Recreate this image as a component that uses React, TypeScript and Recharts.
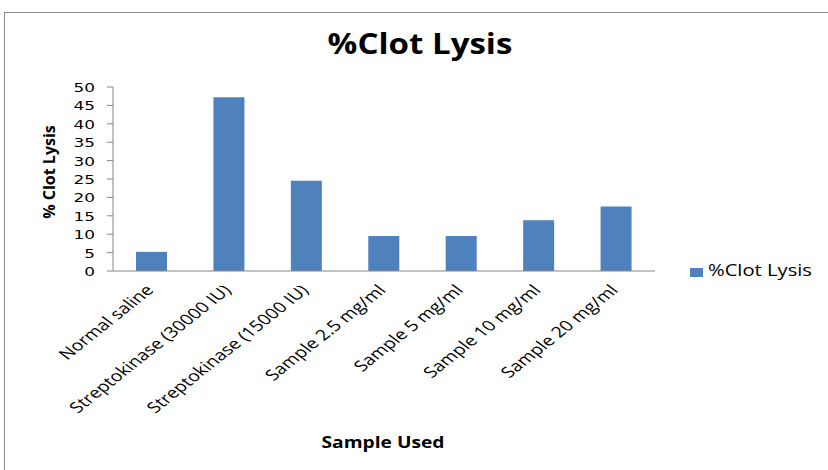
import React from 'react';
import { BarChart, Bar, XAxis, YAxis } from 'recharts';

const categories = [
  'Normal saline',
  'Streptokinase (30000 IU)',
  'Streptokinase (15000 IU)',
  'Sample 2.5 mg/ml',
  'Sample 5 mg/ml',
  'Sample 10 mg/ml',
  'Sample 20 mg/ml',
];
const clotLysis = [5.2, 47.2, 24.5, 9.5, 9.5, 13.8, 17.5];
const yTicks = [0, 5, 10, 15, 20, 25, 30, 35, 40, 45, 50];
const boundaryTicks = [0, 1, 2, 3, 4, 5, 6, 7];
const seriesName = '%Clot Lysis';

const data = categories.map((name, i) => ({ name, value: clotLysis[i], pos: i + 0.5 }));

const XTick = (props: any) => {
  const { x, y, payload } = props;
  return (
    <g transform={`translate(${x + 3},${y + 6}) scale(1.3,1) rotate(-46)`}>
      <text x={0} y={0} textAnchor="end" fontFamily="Open Sans" fontSize={15} fill="#000">
        {payload.value}
      </text>
    </g>
  );
};

const YTick = (props: any) => {
  const { x, y, payload } = props;
  return (
    <g transform={`translate(${x - 10},${y}) scale(1.3,1)`}>
      <text x={0} y={0} dy={5} textAnchor="end" fontFamily="DejaVu Sans" fontSize={13} fill="#000">
        {payload.value}
      </text>
    </g>
  );
};

const txt: React.CSSProperties = { position: 'absolute', fontFamily: 'Open Sans', color: '#000', whiteSpace: 'nowrap', lineHeight: 'normal' };

export default function App() {
  return (
    <div style={{ position: 'absolute', left: 0, top: 0, width: 828, height: 470, background: '#fff', overflow: 'hidden' }}>
      <div
        style={{
          position: 'absolute',
          left: 4,
          top: 12,
          width: 840,
          height: 480,
          border: '1.5px solid #8a8a8a',
          boxSizing: 'border-box',
        }}
      />
      <div
        style={{
          ...txt,
          left: 420,
          top: 23,
          fontWeight: 700,
          fontSize: 29,
          transform: 'translateX(-50%) scaleX(1.14)',
        }}
      >
        %Clot Lysis
      </div>
      <div
        style={{
          ...txt,
          left: 383,
          top: 431,
          fontWeight: 700,
          fontSize: 16,
          transform: 'translateX(-50%) scaleX(1.2)',
        }}
      >
        Sample Used
      </div>
      <div
        style={{
          ...txt,
          left: 49,
          top: 172,
          fontWeight: 700,
          fontSize: 16,
          transform: 'translate(-50%, -50%) rotate(-90deg)',
        }}
      >
        % Clot Lysis
      </div>
      <div style={{ position: 'absolute', left: 0, top: 0 }}>
        <BarChart
          width={828}
          height={470}
          data={data}
          margin={{ top: 87, right: 173, bottom: 43, left: 53 }}
        >
          <XAxis
            xAxisId="b"
            dataKey="pos"
            type="number"
            domain={[0, 7]}
            ticks={boundaryTicks}
            tick={false}
            height={6}
            tickSize={5}
            stroke="#868686"
            axisLine={{ stroke: '#868686' }}
            tickLine={{ stroke: '#868686' }}
          />
          <XAxis
            xAxisId="c"
            dataKey="name"
            type="category"
            interval={0}
            height={150}
            axisLine={false}
            tickLine={false}
            tick={<XTick />}
          />
          <YAxis
            domain={[0, 50]}
            ticks={yTicks}
            interval={0}
            width={60}
            tickSize={6}
            stroke="#868686"
            tick={<YTick />}
          />
          <Bar
            xAxisId="c"
            dataKey="value"
            name={seriesName}
            fill="#4F81BD"
            barSize={31}
            isAnimationActive={false}
          />
        </BarChart>
      </div>
      <div style={{ position: 'absolute', left: 690, top: 268, width: 13, height: 9, background: '#4F81BD' }} />
      <div
        style={{
          ...txt,
          left: 708,
          top: 259,
          fontSize: 16,
          transform: 'scaleX(1.26)',
          transformOrigin: 'left center',
        }}
      >
        {seriesName}
      </div>
    </div>
  );
}
